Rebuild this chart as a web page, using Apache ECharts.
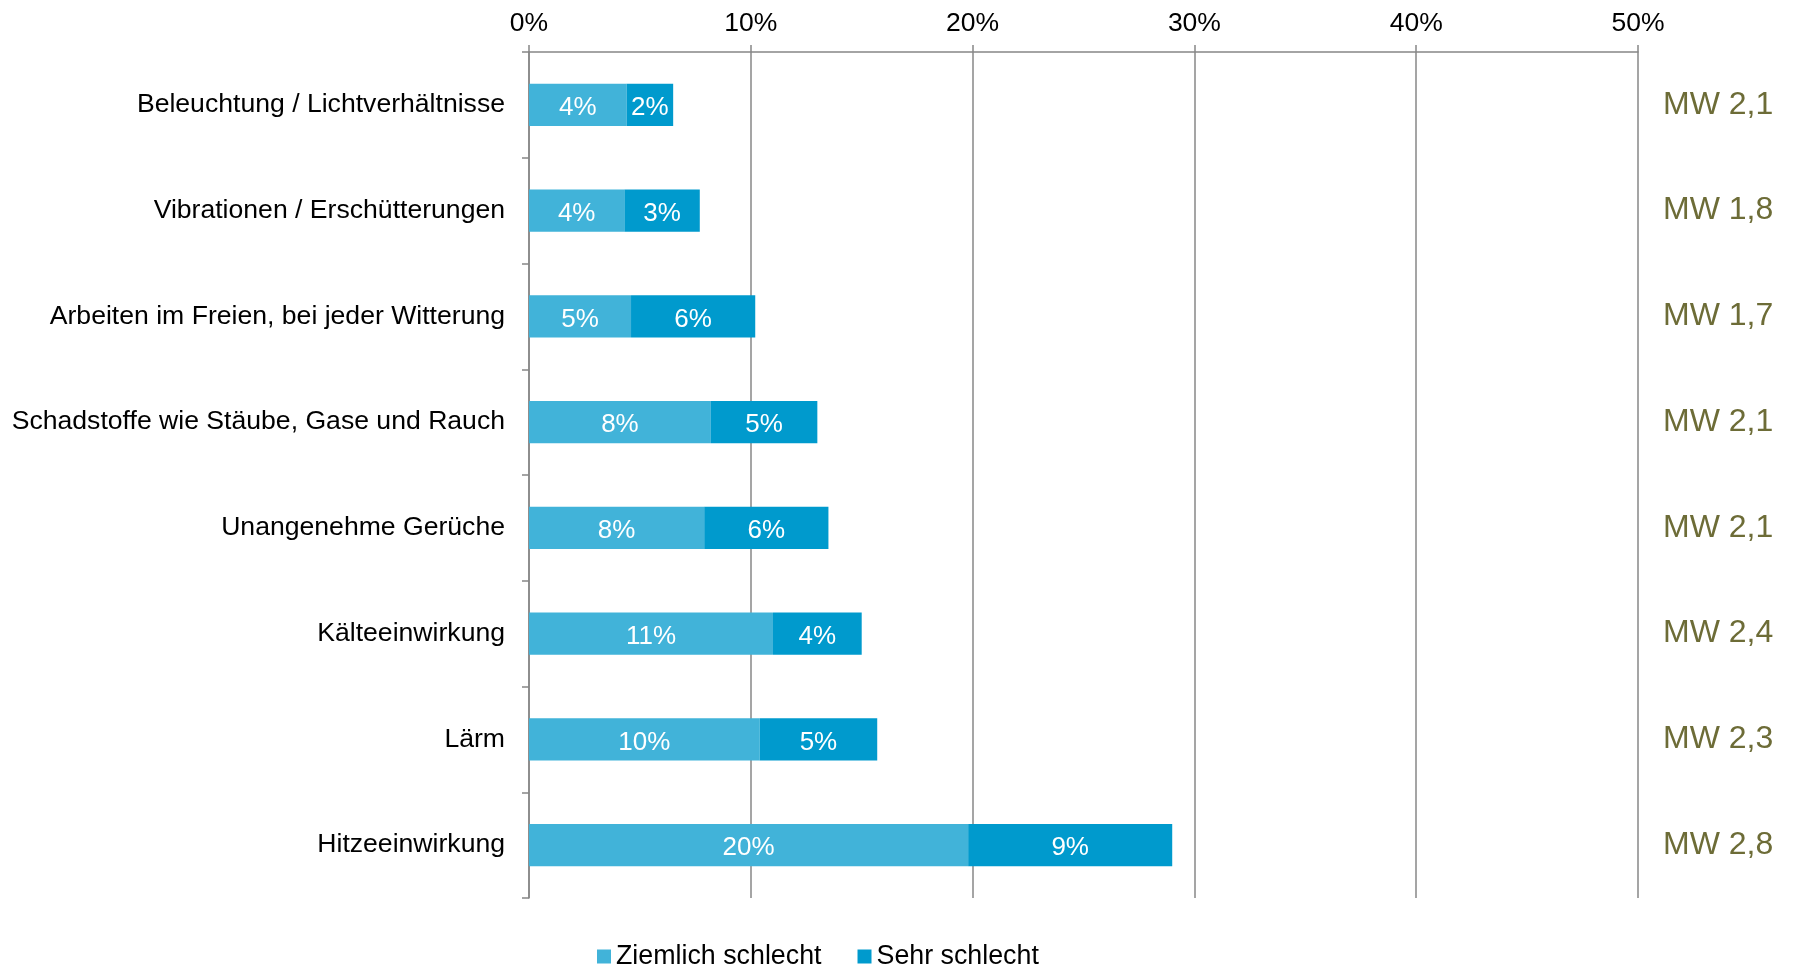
<!DOCTYPE html>
<html>
<head>
<meta charset="utf-8">
<script src="https://cdn.jsdelivr.net/npm/echarts@6/dist/echarts.min.js"></script>
<style>
  html, body { margin: 0; padding: 0; background: #fff; }
  #chart { width: 1794px; height: 967px; }
</style>
</head>
<body>
<div id="chart"></div>
<script>
// Belastungen am Arbeitsplatz: Anteil "ziemlich" / "sehr schlecht" (in %)
const categories = [
  'Beleuchtung / Lichtverhältnisse',
  'Vibrationen / Erschütterungen',
  'Arbeiten im Freien, bei jeder Witterung',
  'Schadstoffe wie Stäube, Gase und Rauch',
  'Unangenehme Gerüche',
  'Kälteeinwirkung',
  'Lärm',
  'Hitzeeinwirkung'
];
const ziemlichSchlecht = [4.4, 4.3, 4.6, 8.2, 7.9, 11.0, 10.4, 19.8];
const sehrSchlecht     = [2.1, 3.4, 5.6, 4.8, 5.6, 4.0, 5.3, 9.2];
const mittelwerte = ['MW 2,1', 'MW 1,8', 'MW 1,7', 'MW 2,1', 'MW 2,1', 'MW 2,4', 'MW 2,3', 'MW 2,8'];
const seriesNames = ['Ziemlich schlecht', 'Sehr schlecht'];
const xTicks = { min: 0, max: 50, interval: 10 };

const FONT = "'Liberation Sans', Arial, sans-serif";
const GRAY = '#878787';

const chart = echarts.init(document.getElementById('chart'), null, { renderer: 'canvas' });

const barLabel = {
  show: true,
  position: 'inside',
  color: '#fff',
  fontSize: 26,
  fontFamily: FONT,
  offset: [0, 3],
  formatter: p => Math.round(p.value) + '%'
};

chart.setOption({
  animation: false,
  backgroundColor: '#fff',
  textStyle: { fontFamily: FONT },
  grid: { left: 529, right: 156, top: 52, bottom: 69, containLabel: false },
  legend: {
    data: seriesNames,
    left: 592,
    top: 938,
    itemWidth: 14,
    itemHeight: 14,
    itemGap: 36,
    icon: 'rect',
    textStyle: { fontSize: 26.8, color: '#000', fontFamily: FONT }
  },
  xAxis: {
    type: 'value',
    position: 'top',
    min: xTicks.min,
    max: xTicks.max,
    interval: xTicks.interval,
    axisLine: { show: true, lineStyle: { color: GRAY, width: 1.5 } },
    axisTick: { show: true, length: 7, lineStyle: { color: GRAY, width: 1.5 } },
    splitLine: { show: true, lineStyle: { color: GRAY, width: 1.5 } },
    axisLabel: {
      formatter: '{value}%',
      fontSize: 26.5,
      color: '#000',
      margin: 15,
      fontFamily: FONT
    }
  },
  yAxis: [
    {
      type: 'category',
      inverse: true,
      data: categories,
      axisLine: { show: true, lineStyle: { color: GRAY, width: 1.5 } },
      axisTick: { show: true, length: 7, lineStyle: { color: GRAY, width: 1.5 } },
      axisLabel: { fontSize: 26.6, color: '#000', margin: 24, padding: [10, 0, 0, 0], fontFamily: FONT }
    },
    {
      type: 'category',
      inverse: true,
      position: 'right',
      data: mittelwerte,
      axisLine: { show: false },
      axisTick: { show: false },
      splitLine: { show: false },
      axisLabel: { fontSize: 32, color: '#6d6c37', margin: 25, padding: [2, 0, 0, 0], fontFamily: FONT }
    }
  ],
  series: [
    {
      name: seriesNames[0],
      type: 'bar',
      stack: 'total',
      yAxisIndex: 0,
      barWidth: '40%',
      itemStyle: { color: '#41b3d9' },
      label: barLabel,
      data: ziemlichSchlecht
    },
    {
      name: seriesNames[1],
      type: 'bar',
      stack: 'total',
      yAxisIndex: 0,
      barWidth: '40%',
      itemStyle: { color: '#009acd' },
      label: barLabel,
      data: sehrSchlecht
    }
  ]
});
</script>
</body>
</html>
